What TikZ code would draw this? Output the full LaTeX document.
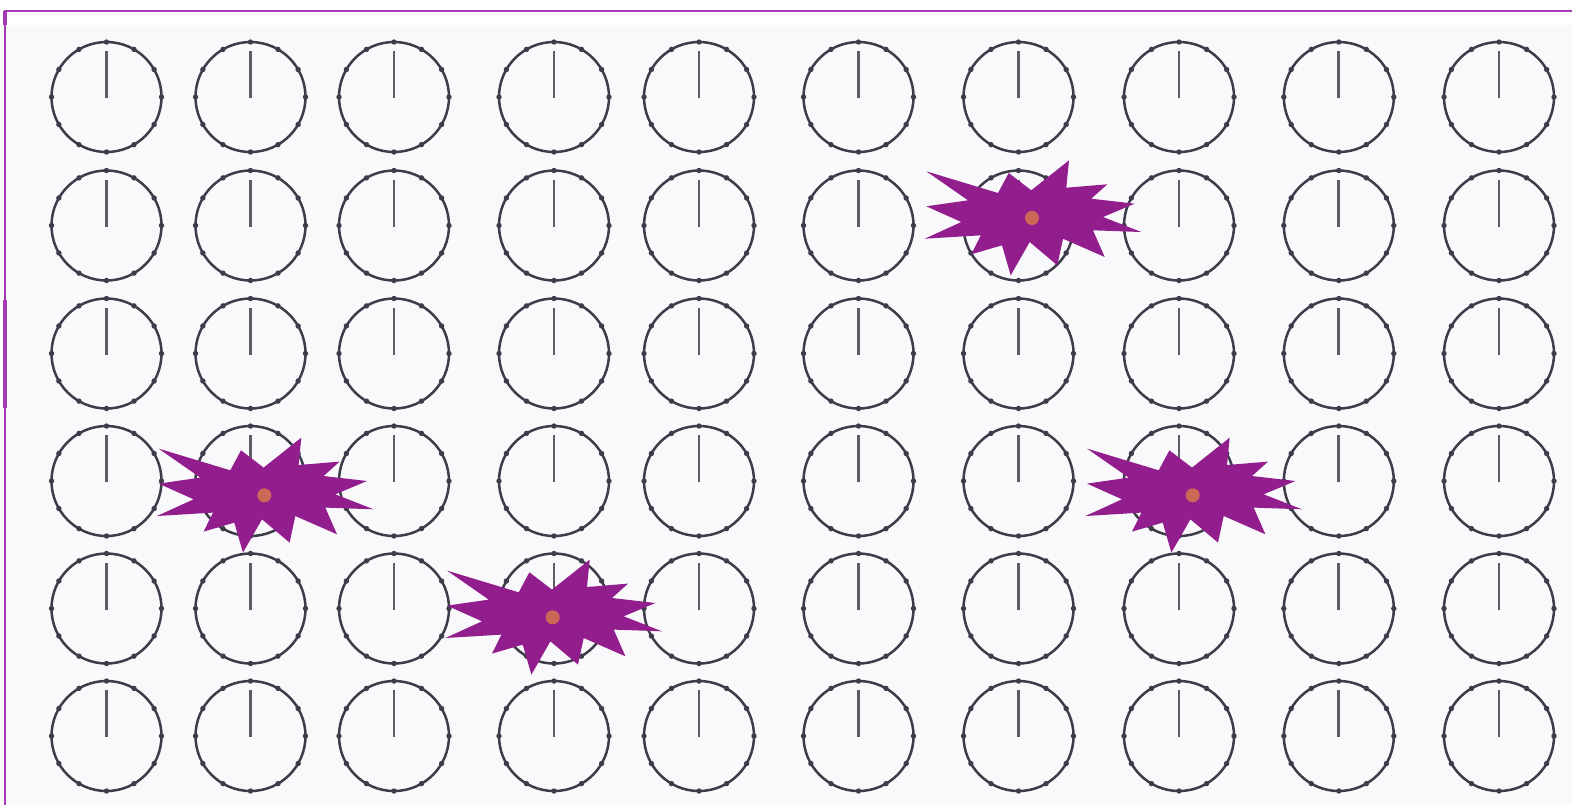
\documentclass[tikz,border=0pt]{standalone}
\definecolor{burst}{HTML}{921E8E}
\definecolor{dotc}{HTML}{CD6856}
\definecolor{framec}{HTML}{A43AB4}
\definecolor{bgc}{HTML}{F9F9FB}
\definecolor{clk}{HTML}{3C3C4A}
\definecolor{handc}{HTML}{5C5C62}
\tikzset{
  clockface/.style={draw=clk, line width=1.25pt},
  clocktick/.style={fill=clk},
  clockhand/.style={draw=handc, line width=1.45pt},
  burstshape/.style={fill=burst},
  burstdot/.style={fill=dotc},
  framestyle/.style={draw=framec, line width=1pt}
}
\begin{document}
\begin{tikzpicture}[x=0.5pt,y=-0.5pt]
\useasboundingbox (0,0) rectangle (1572,805);
\fill[white] (0,0) rectangle (1572,805);
\fill[bgc] (5,25) rectangle (1572,805);
\draw[framestyle] (5,805) -- (5,11) -- (1572,11);
\draw[framestyle, line width=1.6pt] (5,11) -- (5,25);
\draw[framestyle, line width=1.6pt] (5,300) -- (5,408);
% clocks
\foreach \x in {106.5,250.5,394,554,699,858.5,1018.5,1179,1338.8,1499}{
  \foreach \y in {97,225.5,353.5,481,608.5,736}{
    \draw[clockface] (\x,\y) circle (55);
    \foreach \a in {0,30,...,330}{
      \fill[clocktick] (\x,\y) ++(\a:55) circle (2.7);
    }
    \draw[clockhand] (\x,\y+1) -- (\x,\y-46);
  }
}
% starbursts
\foreach \cx/\cy/\n in {1032/218/a, 264.3/495.3/b, 552.7/617.3/c, 1192.7/495.3/d}{
  \fill[burstshape, shift={(\cx,\cy)}]
    (-105.7,-46.7) -- (-34,-25) -- (-23.3,-45) -- (-0.7,-27.7) -- (37,-57.7)
    -- (34.3,-30.3) -- (75.3,-33.7) -- (59.3,-19.3) -- (102.7,-14.3) -- (71,-1)
    -- (109.3,14) -- (61,12.3) -- (72.7,39) -- (31,20.7) -- (25.3,47.3)
    -- (-2.3,24) -- (-21.3,57.3) -- (-30,27.3) -- (-60.7,36.3) -- (-51.3,17.3)
    -- (-107.3,20.7) -- (-70.7,4) -- (-105.7,-11.7) -- (-64,-17.7) -- cycle;
  \coordinate (burst-\n) at (\cx,\cy);
  \fill[burstdot] (burst-\n) circle (7);
}
\end{tikzpicture}
\end{document}
